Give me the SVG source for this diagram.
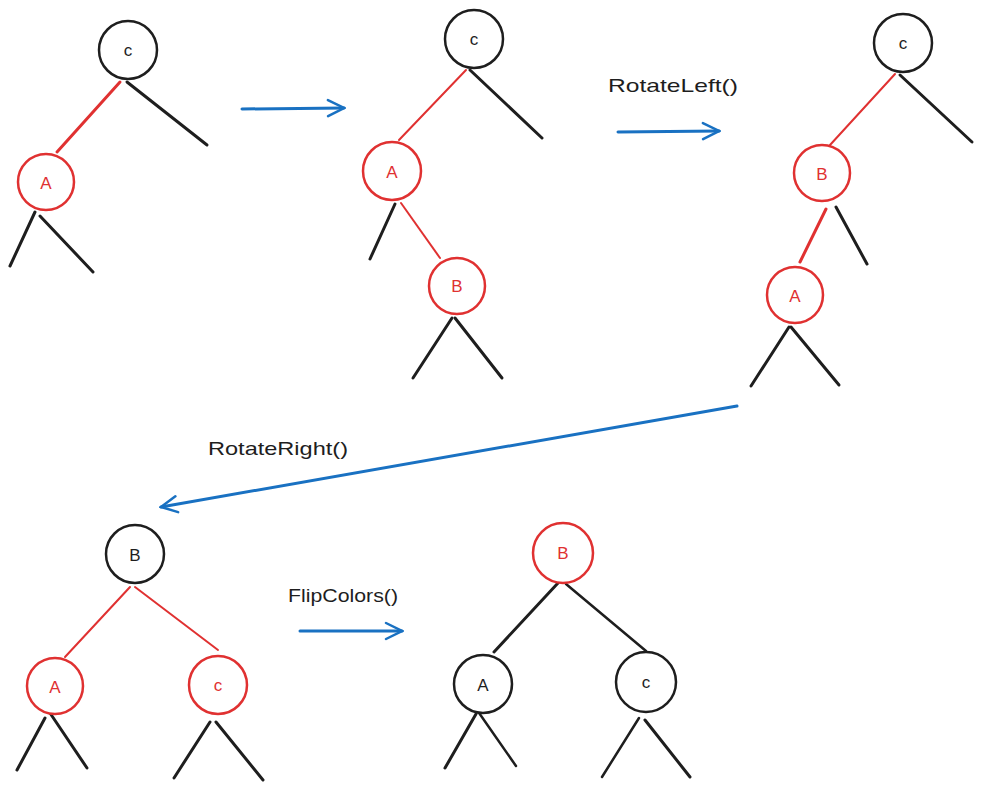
<svg xmlns="http://www.w3.org/2000/svg" width="983" height="791" viewBox="0 0 983 791">
<style>
.bk{fill:#fff;stroke:#1e1e1e;stroke-width:2.5}
.rd{fill:#fff;stroke:#e03131;stroke-width:2.5}
.tb{font-family:"Liberation Sans",sans-serif;font-size:17px;fill:#1e1e1e;text-anchor:middle;dominant-baseline:central}
.tr{font-family:"Liberation Sans",sans-serif;font-size:17px;fill:#e03131;text-anchor:middle;dominant-baseline:central}
.lb{font-family:"Liberation Sans",sans-serif;font-size:19px;fill:#1e1e1e}
.eb{stroke:#1e1e1e;stroke-width:3;stroke-linecap:round;fill:none}
.er{stroke:#e03131;stroke-width:2;stroke-linecap:round;fill:none}
.ar{stroke:#1971c2;stroke-width:3;stroke-linecap:round;fill:none}
</style>
<defs>
<marker id="ah" viewBox="0 0 20 20" refX="18" refY="10" markerWidth="20" markerHeight="20" markerUnits="userSpaceOnUse" orient="auto">
<path d="M2,2 L18,10 L2,18" fill="none" stroke="#1971c2" stroke-width="2.5" stroke-linecap="round"/>
</marker>
</defs>
<g id="connectors">
<line class="er" x1="120" y1="82" x2="57" y2="152" style="stroke-width:3"/>
<line class="eb" x1="127" y1="82" x2="207" y2="145"/>
<line class="eb" x1="35" y1="212" x2="10" y2="266"/>
<line class="eb" x1="40" y1="216" x2="93" y2="272"/>
<line class="er" x1="466" y1="70" x2="399" y2="140"/>
<line class="eb" x1="470" y1="70" x2="542" y2="138"/>
<line class="eb" x1="395" y1="204" x2="370" y2="259"/>
<line class="er" x1="401" y1="203" x2="440" y2="258"/>
<line class="eb" x1="452" y1="318" x2="413" y2="378"/>
<line class="eb" x1="455" y1="318" x2="502" y2="378"/>
<line class="er" x1="895" y1="74" x2="830" y2="145"/>
<line class="eb" x1="900" y1="75" x2="972" y2="142"/>
<line class="er" x1="826" y1="209" x2="800" y2="262" style="stroke-width:3"/>
<line class="eb" x1="836" y1="207" x2="867" y2="264"/>
<line class="eb" x1="789" y1="327" x2="751" y2="386"/>
<line class="eb" x1="791" y1="327" x2="839" y2="385"/>
<line class="er" x1="130" y1="587" x2="65" y2="657"/>
<line class="er" x1="135" y1="587" x2="218" y2="650"/>
<line class="eb" x1="45" y1="718" x2="17" y2="770"/>
<line class="eb" x1="50" y1="713" x2="87" y2="768"/>
<line class="eb" x1="210" y1="722" x2="174" y2="778"/>
<line class="eb" x1="216" y1="722" x2="263" y2="780"/>
<line class="eb" x1="558" y1="583" x2="494" y2="652"/>
<line class="eb" x1="566" y1="584" x2="646" y2="651" style="stroke-width:2.5"/>
<line class="eb" x1="476" y1="714" x2="445" y2="768"/>
<line class="eb" x1="477" y1="710" x2="516" y2="766" style="stroke-width:2.5"/>
<line class="eb" x1="639" y1="718" x2="602" y2="777" style="stroke-width:2.5"/>
<line class="eb" x1="645" y1="720" x2="690" y2="777"/>
<line class="ar" x1="242" y1="109" x2="344" y2="108" marker-end="url(#ah)"/>
<line class="ar" x1="618" y1="132" x2="719" y2="131" marker-end="url(#ah)"/>
<line class="ar" x1="737" y1="406" x2="161" y2="507" marker-end="url(#ah)"/>
<line class="ar" x1="300" y1="631" x2="402" y2="631" marker-end="url(#ah)"/>
</g>
<g id="labels">
<text class="lb" x="608" y="92" textLength="130" lengthAdjust="spacingAndGlyphs">RotateLeft()</text>
<text class="lb" x="208" y="455" textLength="140" lengthAdjust="spacingAndGlyphs">RotateRight()</text>
<text class="lb" x="288" y="602" textLength="110" lengthAdjust="spacingAndGlyphs">FlipColors()</text>
</g>
<g id="t1-C"><circle class="bk" cx="128" cy="50" r="29"/><text class="tb" x="128" y="50">c</text></g>
<g id="t1-A"><circle class="rd" cx="46" cy="182" r="28"/><text class="tr" x="46" y="183">A</text></g>
<g id="t2-C"><circle class="bk" cx="474" cy="39" r="29"/><text class="tb" x="474" y="39">c</text></g>
<g id="t2-A"><circle class="rd" cx="392" cy="171" r="29"/><text class="tr" x="392" y="172">A</text></g>
<g id="t2-B"><circle class="rd" cx="457" cy="286" r="28"/><text class="tr" x="457" y="286">B</text></g>
<g id="t3-C"><circle class="bk" cx="903" cy="43" r="29"/><text class="tb" x="903" y="43">c</text></g>
<g id="t3-B"><circle class="rd" cx="822" cy="173" r="28"/><text class="tr" x="822" y="174">B</text></g>
<g id="t3-A"><circle class="rd" cx="795" cy="295" r="28"/><text class="tr" x="795" y="296">A</text></g>
<g id="t4-B"><circle class="bk" cx="135" cy="554" r="29"/><text class="tb" x="135" y="555">B</text></g>
<g id="t4-A"><circle class="rd" cx="55" cy="686" r="28"/><text class="tr" x="55" y="687">A</text></g>
<g id="t4-C"><circle class="rd" cx="218" cy="685" r="29"/><text class="tr" x="218" y="685">c</text></g>
<g id="t5-B"><circle class="rd" cx="563" cy="553" r="30"/><text class="tr" x="563" y="553">B</text></g>
<g id="t5-A"><circle class="bk" cx="483" cy="684" r="29"/><text class="tb" x="483" y="685">A</text></g>
<g id="t5-C"><circle class="bk" cx="646" cy="682" r="30"/><text class="tb" x="646" y="682">c</text></g>
</svg>
